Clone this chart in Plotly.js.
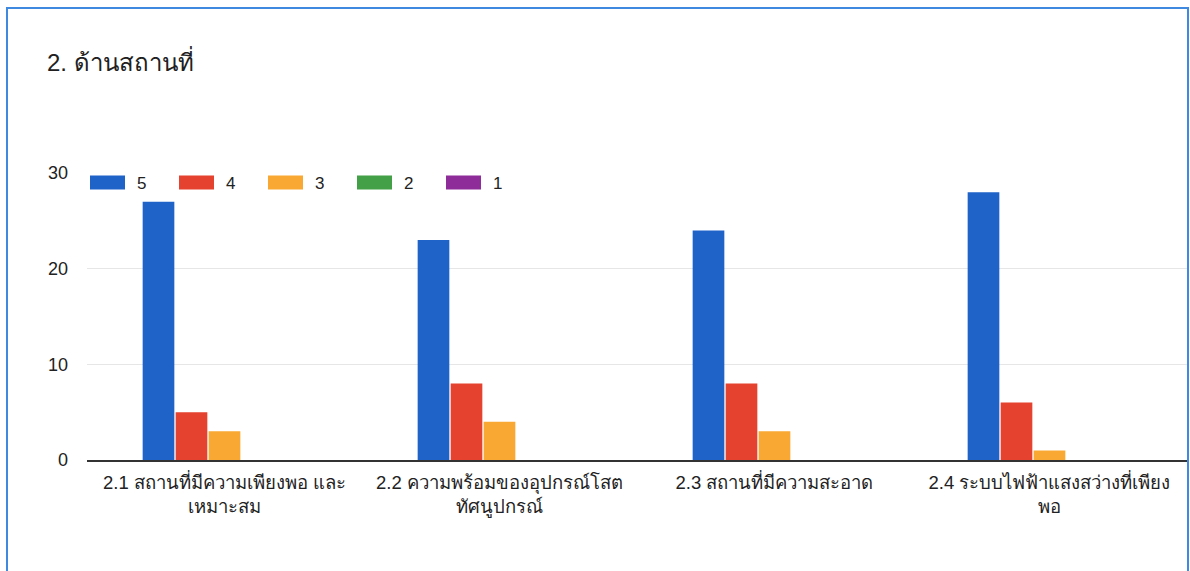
<!DOCTYPE html>
<html>
<head>
<meta charset="utf-8">
<script src="https://cdn.plot.ly/plotly-3.0.1.min.js"></script>
<style>
  html, body { margin: 0; padding: 0; background: #ffffff; }
  #chart { width: 1190px; height: 571px; }
</style>
</head>
<body>
<div id="chart"></div>
<script>
// ---- data ----
const chartTitle = "2. ด้านสถานที่";
const categories = [
  "2.1 สถานที่มีความเพียงพอ และ<br>เหมาะสม",
  "2.2 ความพร้อมของอุปกรณ์โสต<br>ทัศนูปกรณ์",
  "2.3 สถานที่มีความสะอาด",
  "2.4 ระบบไฟฟ้าแสงสว่างที่เพียง<br>พอ"
];
const seriesNames = ["5", "4", "3", "2", "1"];
const values5 = [27, 23, 24, 28];
const values4 = [5, 8, 8, 6];
const values3 = [3, 4, 3, 1];
const values2 = [0, 0, 0, 0];
const values1 = [0, 0, 0, 0];
const seriesColors = ["#1f63c9", "#e5432f", "#f9a834", "#43a047", "#8e2c9a"];
const yTicks = [0, 10, 20, 30];

const allValues = [values5, values4, values3, values2, values1];
const traces = allValues.map((vals, i) => ({
  type: "bar",
  name: seriesNames[i],
  x: categories,
  y: vals,
  marker: { color: seriesColors[i] },
  hoverinfo: "x+y+name"
}));

const fontFamily = "Arial, 'Liberation Sans', 'Noto Sans', sans-serif";

const layout = {
  width: 1190,
  height: 571,
  margin: { l: 87, r: 3, t: 173, b: 111, pad: 0 },
  paper_bgcolor: "#ffffff",
  plot_bgcolor: "#ffffff",
  font: { family: fontFamily, color: "#222222" },
  title: {
    text: chartTitle,
    font: { family: fontFamily, size: 24, color: "#202020" },
    x: 47 / 1190, xanchor: "left", xref: "container",
    y: 1 - 63 / 571, yanchor: "middle", yref: "container"
  },
  barmode: "group",
  bargap: 0.4,
  bargroupgap: 0.04,
  xaxis: {
    type: "category",
    tickfont: { family: fontFamily, size: 18.5, color: "#222222" },
    showgrid: false,
    showline: true,
    linecolor: "#333333",
    linewidth: 2,
    ticks: "",
    ticklabelstandoff: 5,
    fixedrange: true
  },
  yaxis: {
    range: [0, 30],
    tickvals: yTicks,
    ticktext: yTicks.map(String),
    tickfont: { family: fontFamily, size: 18, color: "#222222" },
    showgrid: true,
    gridcolor: "#e6e6e6",
    gridwidth: 1,
    zeroline: false,
    showline: false,
    ticks: "",
    ticklabelstandoff: 18,
    fixedrange: true
  },
  showlegend: true,
  legend: {
    orientation: "h",
    x: 0, xanchor: "left",
    y: (460 - 183) / 287, yanchor: "middle",
    font: { family: fontFamily, size: 17, color: "#222222" },
    bgcolor: "rgba(0,0,0,0)",
    entrywidth: 44,
    entrywidthmode: "pixels",
    traceorder: "normal"
  },
  shapes: [{
    type: "rect",
    xref: "paper", yref: "paper",
    x0: (7 - 87) / 1100, x1: (1188 - 87) / 1100,
    y0: (460 - 600) / 287, y1: (460 - 8) / 287,
    line: { color: "#3f8ae0", width: 2 },
    fillcolor: "rgba(0,0,0,0)",
    layer: "below"
  }]
};

Plotly.newPlot("chart", traces, layout, { displayModeBar: false, responsive: false }).then(() => {
  // widen legend swatches to match the reference's rectangular keys
  document.querySelectorAll("#chart .legendpoints path").forEach(p => {
    p.setAttribute("d", "M18,7H-17V-7H18Z");
  });
  document.querySelectorAll("#chart .legendtext").forEach(t => {
    t.setAttribute("x", "50");
  });
});
</script>
</body>
</html>
